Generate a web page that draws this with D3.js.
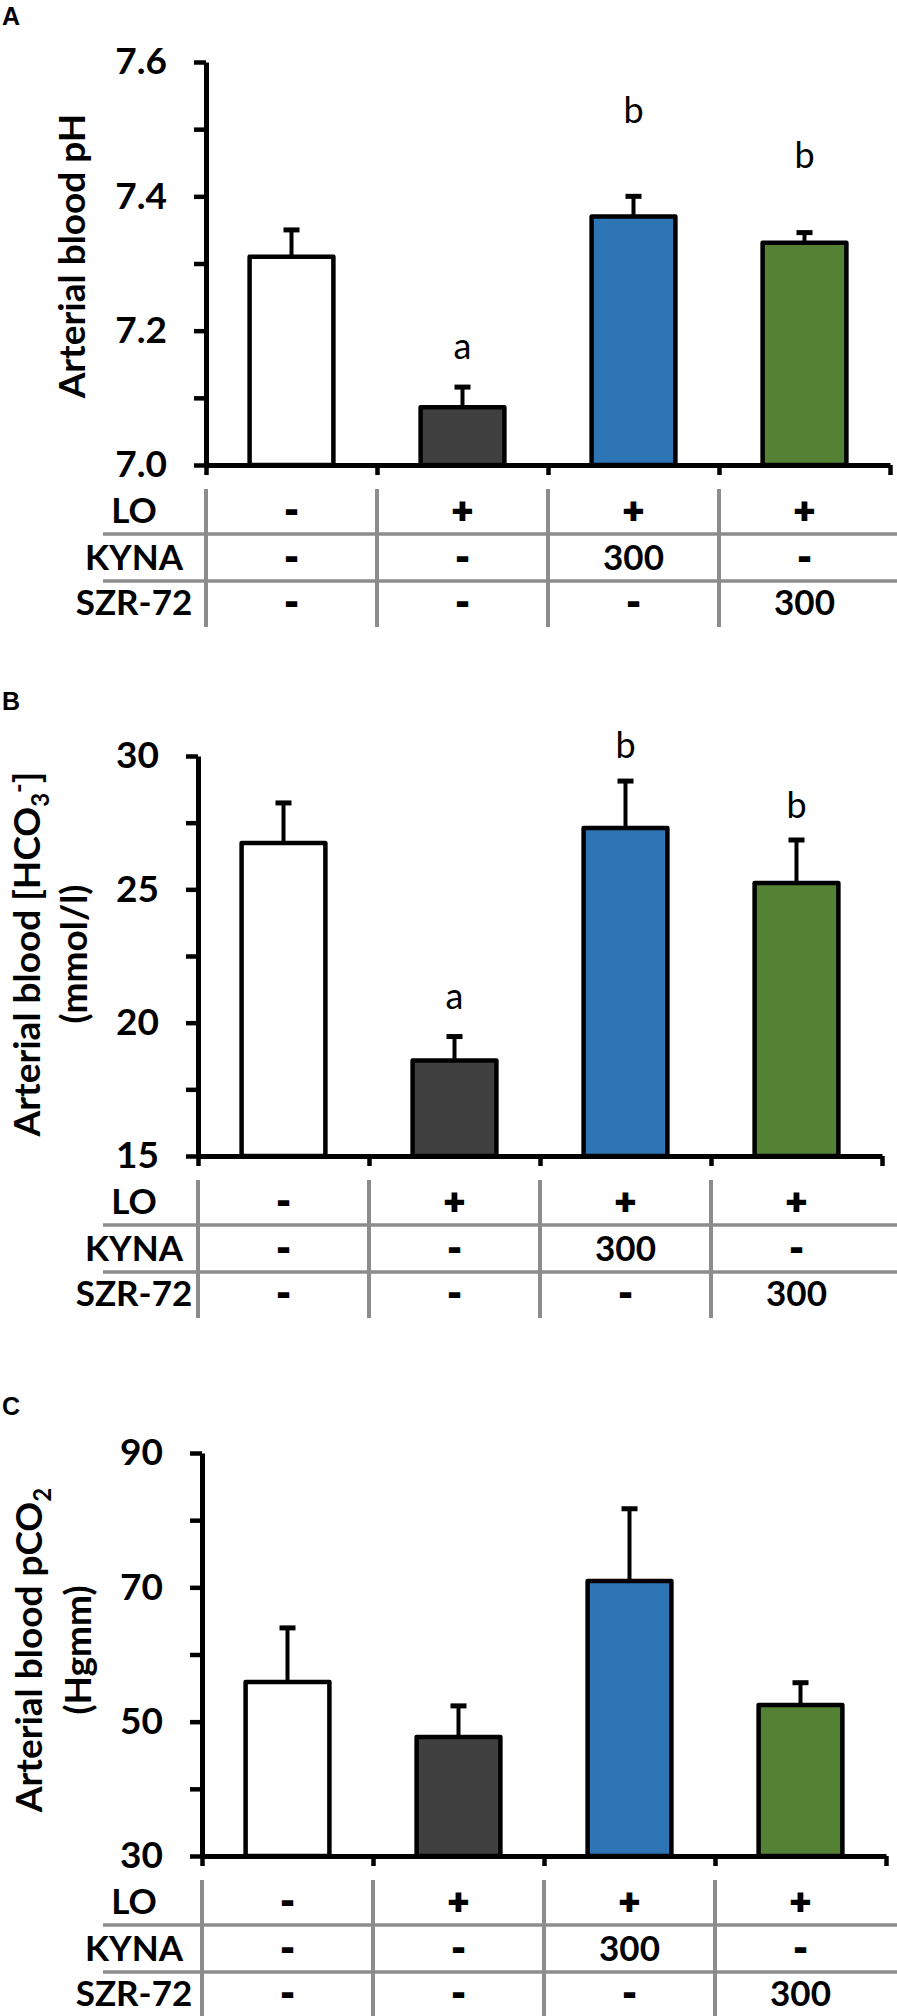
<!DOCTYPE html>
<html>
<head>
<meta charset="utf-8">
<script src="https://cdn.jsdelivr.net/npm/d3@7"></script>
<style>
  body { margin: 0; background: #fff; }
  svg { display: block; }
</style>
</head>
<body>
<div id="chart"></div>
<script>
// ── data ──
const groups    = ["Control", "LO", "LO+KYNA", "LO+SZR-72"];
const barColors = ["#ffffff", "#404040", "#2e75b6", "#548235"];

const phMean     = [7.310, 7.086, 7.370, 7.331];
const phSem      = [0.040, 0.030, 0.030, 0.015];
const phLetters  = ["", "a", "b", "b"];
const phLetterAt = [null, 7.176, 7.528, 7.461];
const phTicks    = [7.0, 7.2, 7.4, 7.6];
const phMinor    = [7.1, 7.3, 7.5];

const hco3Mean     = [26.74, 18.58, 27.30, 25.24];
const hco3Sem      = [1.50, 0.90, 1.76, 1.61];
const hco3Letters  = ["", "a", "b", "b"];
const hco3LetterAt = [null, 20.97, 30.41, 28.16];
const hco3Ticks    = [15, 20, 25, 30];
const hco3Minor    = [17.5, 22.5, 27.5];

const pco2Mean  = [55.9, 47.7, 70.95, 52.5];
const pco2Sem   = [8.06, 4.65, 10.75, 3.3];
const pco2Ticks = [30, 50, 70, 90];
const pco2Minor = [40, 60, 80];

const rowLabels = ["LO", "KYNA", "SZR-72"];
const loRow     = ["-", "+", "+", "+"];
const kynaRow   = ["-", "-", "300", "-"];
const szrRow    = ["-", "-", "-", "300"];

// ── layout ──
const W = 897, H = 2016;
const FONT = "Lato, 'Open Sans', sans-serif";

const svg = d3.select("#chart").append("svg")
  .attr("width", W).attr("height", H)
  .attr("viewBox", `0 0 ${W} ${H}`);

const panels = [
  { letter: "A", letterY: 25, x0: 206, yTop: 62, yBot: 465,
    domain: [7.0, 7.6], ticks: phTicks, minor: phMinor, fmt: d3.format(".1f"),
    mean: phMean, sem: phSem, letters: phLetters, letterAt: phLetterAt,
    title: { y: 256, lines: [{ x: 72, parts: [["Arterial blood pH"]] }] } },
  { letter: "B", letterY: 710, x0: 198, yTop: 756, yBot: 1156,
    domain: [15, 30], ticks: hco3Ticks, minor: hco3Minor, fmt: d3.format("d"),
    mean: hco3Mean, sem: hco3Sem, letters: hco3Letters, letterAt: hco3LetterAt,
    title: { y: 954, lines: [
      { x: 27, parts: [["Arterial blood [HCO"], ["3", 9, 24], ["-", -21, 26], ["]", 12]] },
      { x: 74, parts: [["(mmol/l)"]] } ] } },
  { letter: "C", letterY: 1415, x0: 202, yTop: 1453, yBot: 1856,
    domain: [30, 90], ticks: pco2Ticks, minor: pco2Minor, fmt: d3.format("d"),
    mean: pco2Mean, sem: pco2Sem, letters: null, letterAt: null,
    title: { y: 1650, lines: [
      { x: 29, parts: [["Arterial blood pCO"], ["2", 9, 24]] },
      { x: 78, parts: [["(Hgmm)"]] } ] } }
];

const rows = [loRow, kynaRow, szrRow];
const plotW = 684;

panels.forEach((p) => {
  const g = svg.append("g");

  const x = d3.scaleBand().domain(groups)
    .range([p.x0, p.x0 + plotW])
    .paddingInner(0.51).paddingOuter(0.255);
  const xEdge = d3.scaleLinear().domain([0, groups.length]).range([p.x0, p.x0 + plotW]);
  const y = d3.scaleLinear().domain(p.domain).range([p.yBot, p.yTop]);

  // panel letter
  g.append("text").text(p.letter)
    .attr("x", 2).attr("y", p.letterY)
    .attr("font-family", "'Liberation Sans', Arial, sans-serif")
    .attr("font-weight", 700).attr("font-size", 25);

  // y title
  const tg = g.append("g").attr("font-family", FONT).attr("font-weight", 700).attr("font-size", 37);
  p.title.lines.forEach((ln) => {
    const t = tg.append("text")
      .attr("transform", `translate(${ln.x},${p.title.y}) rotate(-90)`)
      .attr("text-anchor", "middle")
      .attr("dy", "0.35em");
    ln.parts.forEach(([s, dy, fs]) => {
      const ts = t.append("tspan").text(s);
      if (dy) ts.attr("dy", dy);
      if (fs) ts.attr("font-size", fs);
    });
  });

  // bars
  const data = groups.map((k, i) => ({ k, i, mean: p.mean[i], sem: p.sem[i] }));
  g.append("g").selectAll("rect").data(data).join("rect")
    .attr("x", (d) => x(d.k))
    .attr("y", (d) => y(d.mean))
    .attr("width", x.bandwidth())
    .attr("height", (d) => y(p.domain[0]) - y(d.mean))
    .attr("fill", (d) => barColors[d.i])
    .attr("stroke", "#000").attr("stroke-width", 4.5)
    .attr("stroke-linejoin", "round");

  // error bars (upper only)
  const eb = g.append("g").attr("stroke", "#000");
  eb.selectAll("line.stem").data(data).join("line").attr("class", "stem")
    .attr("x1", (d) => x(d.k) + x.bandwidth() / 2)
    .attr("x2", (d) => x(d.k) + x.bandwidth() / 2)
    .attr("y1", (d) => y(d.mean))
    .attr("y2", (d) => y(d.mean + d.sem))
    .attr("stroke-width", 4);
  eb.selectAll("line.cap").data(data).join("line").attr("class", "cap")
    .attr("x1", (d) => x(d.k) + x.bandwidth() / 2 - 8)
    .attr("x2", (d) => x(d.k) + x.bandwidth() / 2 + 8)
    .attr("y1", (d) => y(d.mean + d.sem))
    .attr("y2", (d) => y(d.mean + d.sem))
    .attr("stroke-width", 5);

  // significance letters
  if (p.letters) {
    g.append("g").selectAll("text")
      .data(data.filter((d) => p.letters[d.i]))
      .join("text")
      .text((d) => p.letters[d.i])
      .attr("x", (d) => x(d.k) + x.bandwidth() / 2)
      .attr("y", (d) => y(p.letterAt[d.i]))
      .attr("dy", "0.35em")
      .attr("text-anchor", "middle")
      .attr("font-family", FONT).attr("font-size", 36);
  }

  // y axis
  const yAxis = g.append("g").attr("transform", `translate(${p.x0},0)`)
    .call(d3.axisLeft(y).tickValues(p.ticks).tickFormat(p.fmt)
      .tickSize(12).tickSizeOuter(0).tickPadding(27));
  yAxis.select(".domain").attr("stroke-width", 5);
  yAxis.selectAll(".tick line").attr("stroke-width", 4.5);
  yAxis.selectAll(".tick text")
    .attr("font-family", FONT).attr("font-weight", 700).attr("font-size", 37).attr("fill", "#000");

  const yMinor = g.append("g").attr("transform", `translate(${p.x0},0)`)
    .call(d3.axisLeft(y).tickValues(p.minor).tickFormat("").tickSize(12).tickSizeOuter(0));
  yMinor.select(".domain").remove();
  yMinor.selectAll(".tick line").attr("stroke-width", 4.5);

  // x axis
  const xAxis = g.append("g").attr("transform", `translate(0,${p.yBot})`)
    .call(d3.axisBottom(xEdge).tickValues(d3.range(groups.length + 1))
      .tickFormat("").tickSize(10).tickSizeOuter(0));
  xAxis.select(".domain").attr("stroke-width", 5);
  xAxis.selectAll(".tick line").attr("stroke-width", 4.5);

  // table under the axis
  const tb = p.yBot;
  const rowY = [46, 93, 138];
  const lineY = [69, 116];
  const tab = g.append("g");
  tab.selectAll("line.h").data(lineY).join("line").attr("class", "h")
    .attr("x1", 103).attr("x2", W)
    .attr("y1", (d) => tb + d).attr("y2", (d) => tb + d)
    .attr("stroke", "#8c8c8c").attr("stroke-width", 3.5);
  tab.selectAll("line.v").data(d3.range(groups.length)).join("line").attr("class", "v")
    .attr("x1", (d) => xEdge(d)).attr("x2", (d) => xEdge(d))
    .attr("y1", tb + 24).attr("y2", tb + 162)
    .attr("stroke", "#8c8c8c").attr("stroke-width", 4);

  const tt = tab.append("g").attr("font-family", FONT).attr("font-weight", 700)
    .attr("font-size", 35).attr("text-anchor", "middle");
  rowLabels.forEach((lab, r) => {
    tt.append("text").text(lab)
      .attr("x", 134).attr("y", tb + rowY[r]).attr("dy", "0.35em");
    tt.selectAll(null).data(rows[r]).join("text")
      .text((d) => d)
      .attr("x", (d, i) => x(groups[i]) + x.bandwidth() / 2)
      .attr("y", tb + rowY[r]).attr("dy", "0.35em")
      // heavier +/- signs like the reference
      .attr("stroke", (d) => d === "300" ? null : "#000")
      .attr("stroke-width", (d) => d === "300" ? null : 2.2)
      .attr("stroke-linejoin", "miter");
  });
});
</script>
</body>
</html>
